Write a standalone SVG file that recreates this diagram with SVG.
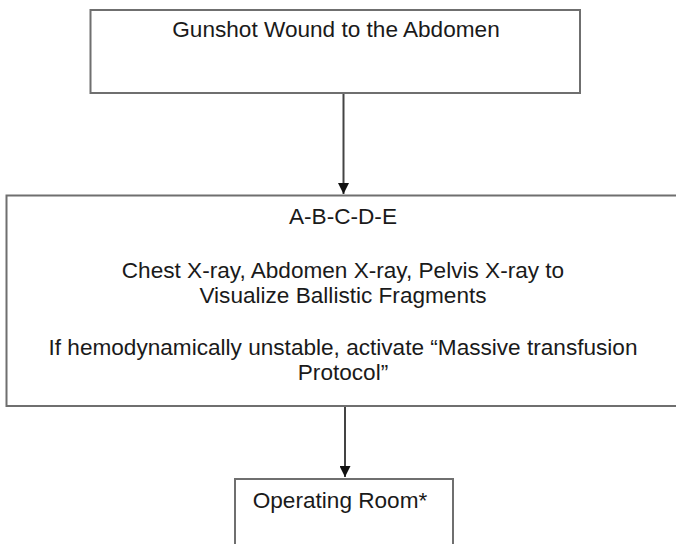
<svg xmlns="http://www.w3.org/2000/svg" width="676" height="544" viewBox="0 0 676 544">
<defs>
<style>
.box{fill:#fff;stroke:#6f6f6f;stroke-width:2}
.t{font-family:"Liberation Sans",Arial,sans-serif;font-size:22.6px;fill:#1a1a1a;text-anchor:middle}
.edge{stroke:#444;stroke-width:2;fill:none}
</style>
<marker id="ah" viewBox="0 0 10 10" refX="10" refY="5" markerWidth="5.5" markerHeight="5.5" orient="auto" markerUnits="strokeWidth">
<path d="M0,0 L10,5 L0,10 Z" fill="#111"/>
</marker>
</defs>
<rect width="676" height="544" fill="#fff"/>
<g id="n1">
<rect class="box" x="90.5" y="10" width="489.5" height="83"/>
<text class="t" x="336" y="37">Gunshot Wound to the Abdomen</text>
</g>
<g id="n2">
<rect class="box" x="6.5" y="195.5" width="680" height="210.5"/>
<text class="t" x="343" y="224">A-B-C-D-E</text>
<text class="t" x="343" y="278">Chest X-ray, Abdomen X-ray, Pelvis X-ray to</text>
<text class="t" x="343" y="303">Visualize Ballistic Fragments</text>
<text class="t" x="343" y="355">If hemodynamically unstable, activate “Massive transfusion</text>
<text class="t" x="343" y="380">Protocol”</text>
</g>
<g id="n3">
<rect class="box" x="235" y="479" width="218" height="80"/>
<text class="t" x="340" y="508">Operating Room*</text>
</g>
<g id="connectors">
<line class="edge" x1="343.5" y1="94" x2="343.5" y2="194" marker-end="url(#ah)"/>
<line class="edge" x1="345" y1="407" x2="345" y2="477" marker-end="url(#ah)"/>
</g>
</svg>
